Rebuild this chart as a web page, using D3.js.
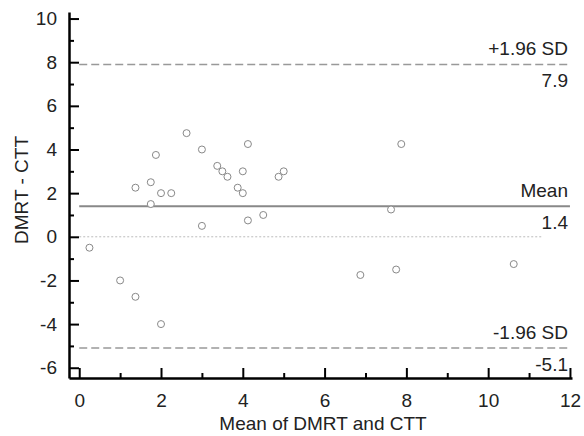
<!DOCTYPE html>
<html>
<head>
<meta charset="utf-8">
<script src="https://cdn.jsdelivr.net/npm/d3@7"></script>
<style>
  body { margin: 0; background: #fff; }
  text { font-family: "Liberation Sans", Arial, sans-serif; fill: #222; }
</style>
</head>
<body>
<div id="chart"></div>
<script>
// Bland-Altman: DMRT vs CTT
var meanVals = [0.25, 1, 1.375, 1.375, 1.75, 1.75, 1.875, 2, 2, 2.25, 2.625, 3, 3, 3.375, 3.5,
                3.625, 3.875, 4, 4, 4.125, 4.125, 4.5, 4.875, 5, 6.875, 7.625, 7.75, 7.875, 10.625];
var diffVals = [-0.5, -2, -2.75, 2.25, 2.5, 1.5, 3.75, 2, -4, 2, 4.75, 4, 0.5, 3.25, 3,
                2.75, 2.25, 3, 2, 4.25, 0.75, 1, 2.75, 3, -1.75, 1.25, -1.5, 4.25, -1.25];
var xTicks = [0, 2, 4, 6, 8, 10, 12];
var yTicks = [-6, -4, -2, 0, 2, 4, 6, 8, 10];
var xMinor = [1, 3, 5, 7, 9, 11];
var yMinor = [-5, -3, -1, 1, 3, 5, 7, 9];
var meanDiff = 1.4;
var upperLoA = 7.9;
var lowerLoA = -5.1;

var svgWidth = 584;
var svgHeight = 436;
var fontSize = "19px";

var svg = d3.select("#chart")
    .append("svg")
    .attr("width", svgWidth)
    .attr("height", svgHeight);

var x = d3.scaleLinear()
    .domain([-0.25, 12.05])
    .range([69, 572]);

var y = d3.scaleLinear()
    .domain([-6.47, 10.3])
    .range([378, 12]);

var points = meanVals.map(function(m, i) { return { m: m, d: diffVals[i] }; });

// reference lines
svg.append("line")
    .attr("x1", x(0)).attr("x2", x(11.3))
    .attr("y1", y(0)).attr("y2", y(0))
    .attr("stroke", "#bbb")
    .attr("stroke-width", 1)
    .attr("stroke-dasharray", "2,2");

[upperLoA, lowerLoA].forEach(function(v) {
    svg.append("line")
        .attr("x1", x(0)).attr("x2", x(12))
        .attr("y1", y(v)).attr("y2", y(v))
        .attr("stroke", "#999")
        .attr("stroke-width", 1.5)
        .attr("stroke-dasharray", "8,4");
});

svg.append("line")
    .attr("x1", x(0)).attr("x2", x(12))
    .attr("y1", y(meanDiff)).attr("y2", y(meanDiff))
    .attr("stroke", "#888")
    .attr("stroke-width", 2);

// line labels
var labels = [
    { top: "+1.96 SD", bottom: "7.9", v: upperLoA },
    { top: "Mean", bottom: "1.4", v: meanDiff },
    { top: "-1.96 SD", bottom: "-5.1", v: lowerLoA }
];
labels.forEach(function(l) {
    svg.append("text")
        .attr("x", 568).attr("y", y(l.v) - 9)
        .attr("text-anchor", "end")
        .style("font-size", fontSize)
        .text(l.top);
    svg.append("text")
        .attr("x", 568).attr("y", y(l.v) + 23)
        .attr("text-anchor", "end")
        .style("font-size", fontSize)
        .text(l.bottom);
});

// points
svg.selectAll("circle")
    .data(points)
    .enter()
    .append("circle")
    .attr("cx", d => x(d.m))
    .attr("cy", d => y(d.d))
    .attr("r", 3.5)
    .attr("fill", "#fff")
    .attr("stroke", "#888")
    .attr("stroke-width", 1);

// axes
var fmt = d => String(d);
var bottomAxis = d3.axisBottom(x).tickValues(xTicks).tickFormat(fmt).tickSize(-10).tickSizeOuter(0).tickPadding(16);
var leftAxis = d3.axisLeft(y).tickValues(yTicks).tickFormat(fmt).tickSize(-10).tickSizeOuter(0).tickPadding(12);

svg.append("g")
    .attr("transform", "translate(0,378)")
    .call(bottomAxis);
svg.append("g")
    .attr("transform", "translate(69,0)")
    .call(leftAxis);

svg.append("g")
    .attr("transform", "translate(0,378)")
    .call(d3.axisBottom(x).tickValues(xMinor).tickSize(-5).tickSizeOuter(0).tickFormat(""))
    .select(".domain").remove();
svg.append("g")
    .attr("transform", "translate(69,0)")
    .call(d3.axisLeft(y).tickValues(yMinor).tickSize(-5).tickSizeOuter(0).tickFormat(""))
    .select(".domain").remove();

svg.selectAll(".domain").attr("stroke", "#000").attr("stroke-width", 2.5);
svg.selectAll(".tick line").attr("stroke", "#000").attr("stroke-width", 2);
svg.selectAll(".tick text")
    .style("font-size", fontSize)
    .style("font-family", "'Liberation Sans', Arial, sans-serif")
    .attr("fill", "#222");

// axis titles
svg.append("text")
    .attr("x", 323).attr("y", 430)
    .attr("text-anchor", "middle")
    .style("font-size", fontSize)
    .text("Mean of DMRT and CTT");

svg.append("text")
    .attr("transform", "translate(28,190) rotate(-90)")
    .attr("text-anchor", "middle")
    .style("font-size", fontSize)
    .text("DMRT - CTT");
</script>
</body>
</html>
